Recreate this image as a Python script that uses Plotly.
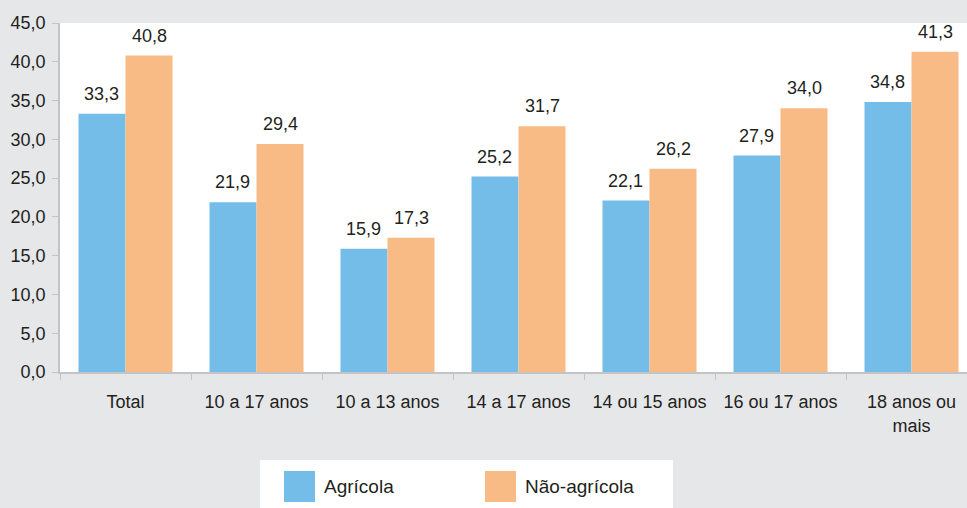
import plotly.graph_objects as go

# dados
categorias = ["Total", "10 a 17 anos", "10 a 13 anos", "14 a 17 anos",
              "14 ou 15 anos", "16 ou 17 anos", "18 anos ou<br>mais"]
series = ["Agrícola", "Não-agrícola"]
agricola = [33.3, 21.9, 15.9, 25.2, 22.1, 27.9, 34.8]
nao_agricola = [40.8, 29.4, 17.3, 31.7, 26.2, 34.0, 41.3]
y_ticks = [0, 5, 10, 15, 20, 25, 30, 35, 40, 45]

cores = ["#74bde8", "#f9bb86"]
texto = "#231f20"
fonte = "Liberation Sans, Arial, sans-serif"

W, H = 967, 508
ML, MR, MT, MB = 60, 0, 23, 136
plot_w = W - ML - MR
plot_h = H - MT - MB
cat_px = 131  # largura de cada categoria em pixels


def px_x(x):
    return (x - ML) / plot_w


def px_y(y):
    return (H - MB - y) / plot_h


fig = go.Figure()
for nome, valores, cor in zip(series, [agricola, nao_agricola], cores):
    fig.add_trace(go.Bar(x=categorias, y=valores, name=nome,
                         marker=dict(color=cor, line=dict(width=0)),
                         showlegend=False, hoverinfo="x+y"))

# rótulos acima das barras
barra_px = cat_px * (1 - 0.2824) / 2
for valores, desloc in [(agricola, -barra_px / 2), (nao_agricola, barra_px / 2)]:
    for c, v in zip(categorias, valores):
        fig.add_annotation(x=c, y=v, text=f"{v:.1f}".replace(".", ","),
                           showarrow=False, yanchor="bottom", xshift=desloc,
                           yshift=8, font=dict(size=18, color=texto))

# legenda desenhada à mão (caixa branca e quadrados grandes)
fig.add_shape(type="rect", xref="paper", yref="paper",
              x0=px_x(260), x1=px_x(673), y0=px_y(512), y1=px_y(460),
              fillcolor="white", line=dict(width=0), layer="below")
leg_x = [284, 485]
for i, nome in enumerate(series):
    fig.add_shape(type="rect", xref="paper", yref="paper",
                  x0=px_x(leg_x[i]), x1=px_x(leg_x[i] + 31),
                  y0=px_y(502), y1=px_y(471),
                  fillcolor=cores[i], line=dict(width=0))
    fig.add_annotation(xref="paper", yref="paper", x=px_x(leg_x[i] + 38),
                       y=px_y(486), text=nome, showarrow=False,
                       xanchor="left", yanchor="middle",
                       font=dict(size=19, color=texto))

fig.update_layout(
    width=W, height=H,
    margin=dict(l=ML, r=MR, t=MT, b=MB),
    paper_bgcolor="#e6e7e9", plot_bgcolor="white",
    barmode="group", bargap=0.2824, bargroupgap=0,
    separators=",.",
    font=dict(family=fonte, size=18, color=texto),
    xaxis=dict(range=[-0.5, -0.5 + plot_w / cat_px], showgrid=False,
               showline=True, linecolor="#c4c4c6", linewidth=1.5,
               ticks="outside", tickson="boundaries", ticklen=6,
               tickcolor="#c4c4c6", ticklabelstandoff=13,
               tickfont=dict(size=18, color=texto)),
    yaxis=dict(range=[0, 45], tickvals=y_ticks, tickformat=".1f",
               showgrid=False, zeroline=False, showline=True,
               linecolor="#c4c4c6", linewidth=1.5, ticks="outside",
               ticklen=6, tickcolor="#c4c4c6", ticklabelstandoff=3,
               tickfont=dict(size=18, color=texto)),
)

# a página tem margem de 8px por padrão; zera para ocupar a janela toda
fig.write_html("out.html", config={"displayModeBar": False},
               post_script="document.body.style.margin='0';")
